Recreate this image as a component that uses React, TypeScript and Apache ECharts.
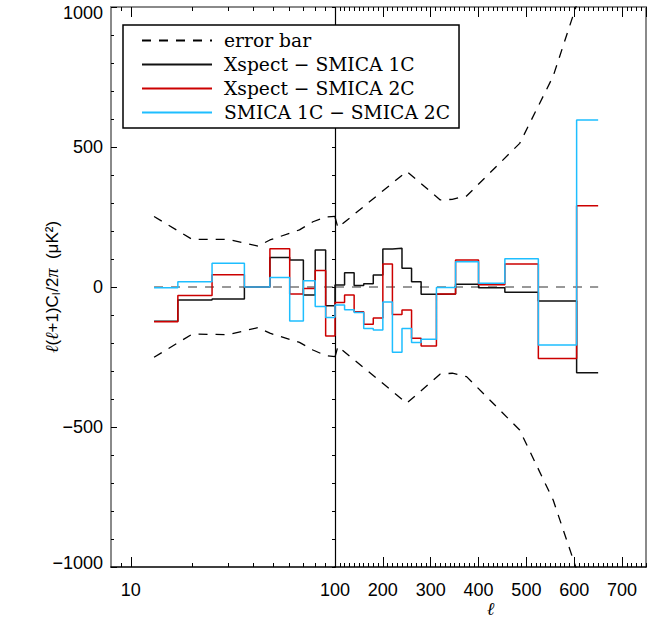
import React, { useEffect, useRef } from 'react';
import * as echarts from 'echarts';

// ---- data ----
// low-ℓ part (log axis, ℓ 8..100): bin edges and band-power differences (μK²)
const lowEdges = [13, 17, 25, 36, 48, 60, 70, 80, 90, 100];
const lowXspect1C = [-122, -46, -43, 0, 105, 96, -29, 132, -67];
const lowXspect2C = [-124, -30, 44, 0, 137, -25, -5, 59, -175];
const lowSmica = [-3, 19, 85, 0, 34, -121, 22, -70, -109];

// high-ℓ part (linear axis, ℓ 100..750)
const highEdges = [100, 120, 140, 160, 180, 200, 220, 240, 260, 280, 312, 352, 400, 455, 525, 605, 650];
const highXspect1C = [7, 51, 5, 12, 43, 136, 138, 67, 19, -26, -25, 10, -3, -19, -50, -306];
const highXspect2C = [-55, -29, -88, -133, -111, 82, -98, -82, -183, -211, -25, 96, 8, 82, -255, 290];
const highSmica = [-64, -81, -91, -148, -154, -54, -233, -148, -198, -187, -2, 90, 13, 101, -207, 596];

// error bar envelope
const errLowL = [13, 20, 30, 42, 48, 67, 78, 90, 100];
const errLowUpper = [252, 170, 170, 146, 168, 204, 233, 250, 252];
const errLowLower = [-251, -168, -170, -145, -165, -198, -225, -245, -249];
const errHighL = [100, 106, 250, 320, 345, 375, 486, 556, 615];
const errHighUpper = [250, 212, 413, 311, 313, 325, 513, 753, 1060];
const errHighLower = [-250, -212, -415, -311, -308, -320, -511, -761, -1060];

const zeroRange = [13, 650];
const splitL = 100;

const logMajorTicks = [10];
const logMinorTicks = [9, 20, 30, 40, 50, 60, 70, 80, 90];
const logLabels = [10];

const NAMES = ['error bar', 'Xspect − SMICA 1C', 'Xspect − SMICA 2C', 'SMICA 1C − SMICA 2C'];

const BLACK = '#000000';
const RED = '#cc0000';
const BLUE = '#1ebeff';
const FRAME = '#8a8a8a';
const DASH = [9, 8];
const SANS = 'Liberation Sans, Arial, sans-serif';
const SERIF = '"DejaVu Serif", "Liberation Serif", serif';

function steps(edges: number[], vals: number[]) {
  const pts: number[][] = [];
  vals.forEach((v, i) => {
    pts.push([edges[i], v]);
    pts.push([edges[i + 1], v]);
  });
  return pts;
}
function pairs(xs: number[], ys: number[]) {
  return xs.map((x, i) => [x, ys[i]]);
}

function line(name: string, data: number[][], color: string, grid: 'A' | 'B', dashed = false, width = 1.5) {
  return {
    type: 'line',
    name,
    data,
    xAxisIndex: grid === 'A' ? 0 : 4,
    yAxisIndex: grid === 'A' ? 0 : 2,
    symbol: 'none',
    showSymbol: false,
    silent: true,
    clip: true,
    lineStyle: { color, width, type: dashed ? DASH : 'solid' },
    itemStyle: { color },
    emphasis: { disabled: true },
  };
}

export default function App() {
  const ref = useRef<HTMLDivElement>(null);
  useEffect(() => {
    if (!ref.current) return;
    const chart = echarts.init(ref.current, null, { renderer: 'svg' });

    const tickStyle = { color: BLACK, width: 1 };
    const gridTop = 7;
    const gridH = 560;

    const logAxis = (position: string, major: boolean, showLine: boolean, lineColor: string, labels: boolean) => ({
      gridIndex: 0,
      type: 'log',
      logBase: 10,
      min: 8,
      max: 100,
      position,
      axisLine: { show: showLine, onZero: false, lineStyle: { color: lineColor, width: lineColor === BLACK ? 1.5 : 2 } },
      axisTick: { show: true, inside: true, length: major ? 10 : 4, customValues: major ? logMajorTicks : logMinorTicks, lineStyle: tickStyle },
      axisLabel: labels
        ? { show: true, customValues: logLabels, formatter: (v: number) => String(Math.round(v)), margin: 14, fontSize: 18, color: BLACK, fontFamily: SANS }
        : { show: false },
      splitLine: { show: false },
    });
    const linAxis = (position: string, major: boolean, showLine: boolean, lineColor: string, labels: boolean) => ({
      gridIndex: 1,
      type: 'value',
      min: 100,
      max: 750,
      interval: major ? 100 : 10,
      position,
      axisLine: { show: showLine, onZero: false, lineStyle: { color: lineColor, width: lineColor === BLACK ? 1.5 : 2 } },
      axisTick: { show: true, inside: true, length: major ? 10 : 4, lineStyle: tickStyle },
      axisLabel: labels
        ? { show: true, showMaxLabel: false, margin: 14, fontSize: 18, color: BLACK, fontFamily: SANS }
        : { show: false },
      splitLine: { show: false },
      name: labels && position === 'bottom' ? '{i|ℓ}' : '',
      nameLocation: 'middle',
      nameGap: 33,
      nameMoveOverlap: false,
      nameTextStyle: { rich: { i: { fontFamily: 'Liberation Serif, DejaVu Serif, serif', fontStyle: 'italic', fontSize: 18, color: BLACK } } },
    });

    const series: any[] = [];
    // error bars and zero line
    series.push(line(NAMES[0], pairs(errLowL, errLowUpper), BLACK, 'A', true, 1.3));
    series.push(line(NAMES[0], pairs(errLowL, errLowLower), BLACK, 'A', true, 1.3));
    series.push(line(NAMES[0], [[zeroRange[0], 0], [splitL, 0]], '#333', 'A', true, 1.2));
    series.push(line(NAMES[0], pairs(errHighL, errHighUpper), BLACK, 'B', true, 1.3));
    series.push(line(NAMES[0], pairs(errHighL, errHighLower), BLACK, 'B', true, 1.3));
    series.push(line(NAMES[0], [[splitL, 0], [zeroRange[1], 0]], '#333', 'B', true, 1.2));
    // step curves
    const sets: [string, number[], number[], string][] = [
      [NAMES[1], lowXspect1C, highXspect1C, '#111111'],
      [NAMES[2], lowXspect2C, highXspect2C, RED],
      [NAMES[3], lowSmica, highSmica, BLUE],
    ];
    sets.forEach(([name, lo, hi, color]) => {
      series.push(line(name, steps(lowEdges, lo), color, 'A'));
      series.push(line(name, [[splitL, lo[lo.length - 1]], ...steps(highEdges, hi)], color, 'B'));
    });

    chart.setOption({
      animation: false,
      backgroundColor: '#ffffff',
      grid: [
        { left: 111, top: gridTop, width: 224, height: gridH, outerBoundsMode: 'none', containLabel: false },
        { left: 335, top: gridTop, width: 311, height: gridH, outerBoundsMode: 'none', containLabel: false },
      ],
      legend: {
        show: true,
        data: NAMES,
        orient: 'vertical',
        left: 123,
        top: 25,
        padding: [6, 9, 6, 18],
        itemWidth: 70,
        itemHeight: 14,
        itemGap: 5,
        borderColor: BLACK,
        borderWidth: 1.5,
        backgroundColor: '#ffffff',
        selectedMode: false,
        itemStyle: { color: 'transparent', borderWidth: 0, opacity: 0 },
        textStyle: { fontFamily: SERIF, fontSize: 18.7, color: BLACK, padding: [0, 0, 0, 7] },
      },
      xAxis: [
        logAxis('bottom', true, true, BLACK, true),
        logAxis('bottom', false, false, BLACK, false),
        logAxis('top', true, true, FRAME, false),
        logAxis('top', false, false, FRAME, false),
        linAxis('bottom', true, true, BLACK, true),
        linAxis('bottom', false, false, BLACK, false),
        linAxis('top', true, true, FRAME, false),
        linAxis('top', false, false, FRAME, false),
      ],
      yAxis: [
        {
          gridIndex: 0,
          type: 'value',
          min: -1000,
          max: 1000,
          interval: 500,
          position: 'left',
          axisLine: { show: true, onZero: false, lineStyle: { color: FRAME, width: 2 } },
          axisTick: { show: true, inside: true, length: 6, lineStyle: tickStyle },
          minorTick: { show: true, splitNumber: 5, length: 3, lineStyle: tickStyle },
          axisLabel: {
            show: true,
            margin: 8,
            fontSize: 18,
            color: BLACK,
            fontFamily: SANS,
            formatter: (v: number) => {
              const t = v < 0 ? '−' + Math.abs(v) : String(v);
              if (v >= 1000) return '{top|' + t + '}';
              if (v <= -1000) return '{bot|' + t + '}';
              return t;
            },
            rich: {
              top: { fontSize: 18, fontFamily: SANS, color: BLACK, padding: [12, 0, 0, 0] },
              bot: { fontSize: 18, fontFamily: SANS, color: BLACK, padding: [0, 0, 8, 0] },
            },
          },
          splitLine: { show: false },
          name: '{i|ℓ}({i|ℓ}+1)C{sub|l}/2{i|π}  (μK²)',
          nameLocation: 'middle',
          nameGap: 50,
          nameRotate: 90,
          nameMoveOverlap: false,
          nameTextStyle: {
            fontFamily: SANS,
            fontSize: 17,
            color: BLACK,
            rich: {
              i: { fontFamily: 'Liberation Serif, DejaVu Serif, serif', fontStyle: 'italic', fontSize: 18, color: BLACK },
              sub: { fontFamily: SANS, fontSize: 11, color: BLACK, verticalAlign: 'bottom', padding: [6, 1, 0, 0] },
            },
          },
        },
        {
          gridIndex: 0,
          type: 'value',
          min: -1000,
          max: 1000,
          interval: 100,
          position: 'right',
          axisLine: { show: true, onZero: false, lineStyle: { color: BLACK, width: 1.2 } },
          axisTick: { show: true, inside: true, length: 3, lineStyle: tickStyle },
          axisLabel: { show: false },
          splitLine: { show: false },
        },
        {
          gridIndex: 1,
          type: 'value',
          min: -1000,
          max: 1000,
          interval: 500,
          position: 'right',
          axisLine: { show: true, onZero: false, lineStyle: { color: FRAME, width: 2 } },
          axisTick: { show: false },
          axisLabel: { show: false },
          splitLine: { show: false },
        },
      ],
      series,
    });
    return () => chart.dispose();
  }, []);
  return <div ref={ref} style={{ position: 'fixed', left: 0, top: 0, width: 654, height: 618 }} />;
}
